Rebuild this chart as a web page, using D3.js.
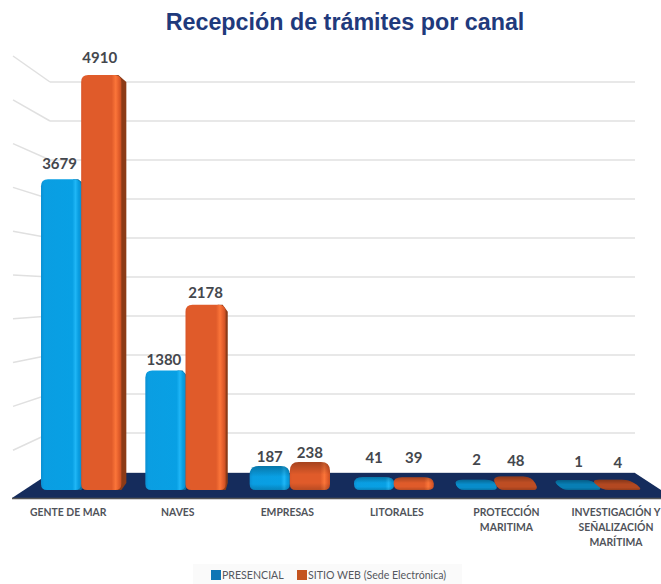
<!DOCTYPE html>
<html>
<head>
<meta charset="utf-8">
<script src="https://cdn.jsdelivr.net/npm/d3@7"></script>
<style>
  body { margin: 0; background: #fff; }
  svg { display: block; }
</style>
</head>
<body>
<div id="chart"></div>
<script>
const categories = ["GENTE DE MAR", "NAVES", "EMPRESAS", "LITORALES", "PROTECCIÓN MARITIMA", "INVESTIGACIÓN Y SEÑALIZACIÓN MARÍTIMA"];
const categoryLines = [["GENTE DE MAR"], ["NAVES"], ["EMPRESAS"], ["LITORALES"], ["PROTECCIÓN", "MARITIMA"], ["INVESTIGACIÓN Y", "SEÑALIZACIÓN", "MARÍTIMA"]];
const seriesNames = ["PRESENCIAL", "SITIO WEB (Sede Electrónica)"];
const presencial = [3679, 1380, 187, 41, 2, 1];
const sitioWeb = [4910, 2178, 238, 39, 48, 4];
const gridTicks = [500, 1000, 1500, 2000, 2500, 3000, 3500, 4000, 4500, 5000];

const width = 661;
const height = 584;
const floorBase = 490;

const svg = d3.select("#chart")
  .append("svg")
  .attr("width", width)
  .attr("height", height)
  .style("font-family", "Lato, sans-serif");

const defs = svg.append("defs");

function hGradient(id, stops) {
  const g = defs.append("linearGradient").attr("id", id);
  stops.forEach(s => g.append("stop").attr("offset", s[0]).attr("stop-color", s[1]));
}
hGradient("blueFace", [[0, "#0b8fd2"], [0.08, "#0a9ee2"], [0.78, "#08a0e4"], [0.86, "#1fb6f6"], [0.93, "#0a9fe2"], [1, "#0a8fd0"]]);
hGradient("orangeFace", [[0, "#d9562a"], [0.06, "#e05b2a"], [0.76, "#e05b2a"], [0.86, "#fb7539"], [0.94, "#e25d2b"], [1, "#c94f22"]]);

const shortShade = defs.append("linearGradient").attr("id", "shortShade").attr("x2", 0).attr("y2", 1);
[[0, 0.26], [0.45, 0], [0.75, 0], [1, 0.18]].forEach(s => {
  shortShade.append("stop").attr("offset", s[0]).attr("stop-color", "#000").attr("stop-opacity", s[1]);
});

const x0 = d3.scaleBand().domain(categories).range([29, 655]).paddingInner(0.23).paddingOuter(0.115);
const x1 = d3.scaleBand().domain(seriesNames).range([0, x0.bandwidth()]);

// bars are drawn in perspective, so the value scale bends a little
const y = d3.scalePow().exponent(1.03).domain([0, 4910]).range([480, 75]);
const backWall = d3.scaleLinear().domain([0, 5000]).range([472, 82]);
const sideWall = d3.scaleLinear().domain([0, 5000]).range([494, 56]);

svg.append("text")
  .attr("x", 345)
  .attr("y", 30)
  .attr("text-anchor", "middle")
  .attr("font-family", "'Liberation Sans', Arial, sans-serif")
  .attr("font-weight", "bold")
  .attr("font-size", 23.3)
  .attr("fill", "#1f3a7c")
  .text("Recepción de trámites por canal");

const grid = svg.append("g").attr("stroke", "#e0e0e0").attr("stroke-width", 1.5).attr("fill", "none");
grid.selectAll("line.back")
  .data(gridTicks)
  .join("line")
  .attr("class", "back")
  .attr("x1", 50)
  .attr("x2", 635)
  .attr("y1", d => backWall(d))
  .attr("y2", d => backWall(d));
grid.selectAll("line.side")
  .data(gridTicks)
  .join("line")
  .attr("class", "side")
  .attr("x1", 13)
  .attr("x2", 50)
  .attr("y1", d => sideWall(d))
  .attr("y2", d => backWall(d));

// floor of the 3d chart
svg.append("path")
  .attr("d", d3.line()([[50, 473], [635, 473], [661, 490], [661, 498], [12, 498]]) + "Z")
  .attr("fill", "#152c5c");
svg.append("line")
  .attr("x1", 50).attr("x2", 635).attr("y1", 472.5).attr("y2", 472.5)
  .attr("stroke", "#d5d8e0");
svg.append("line")
  .attr("x1", 12).attr("x2", 661).attr("y1", 498.5).attr("y2", 498.5)
  .attr("stroke", "#555").attr("stroke-width", 1.6);

// polygon with each corner cut and rounded by its own radius
function roundedPoly(points, radii) {
  const p = d3.path();
  const n = points.length;
  points.forEach((c, i) => {
    const prev = points[(i + n - 1) % n];
    const next = points[(i + 1) % n];
    const lenA = Math.hypot(prev[0] - c[0], prev[1] - c[1]);
    const lenB = Math.hypot(next[0] - c[0], next[1] - c[1]);
    const cutA = Math.min(radii[i], lenA / 2);
    const cutB = Math.min(radii[i], lenB / 2);
    const a = [c[0] + (prev[0] - c[0]) * cutA / lenA, c[1] + (prev[1] - c[1]) * cutA / lenA];
    const b = [c[0] + (next[0] - c[0]) * cutB / lenB, c[1] + (next[1] - c[1]) * cutB / lenB];
    if (i === 0) p.moveTo(a[0], a[1]); else p.lineTo(a[0], a[1]);
    p.quadraticCurveTo(c[0], c[1], b[0], b[1]);
  });
  p.closePath();
  return p.toString();
}

function barPath(d) {
  const r = d.short ? 9 : 7;
  return roundedPoly(
    [[d.left - d.lean, d.top], [d.right - d.lean, d.top], [d.right, floorBase], [d.left, floorBase]],
    [r, r, 6, 6]
  );
}

function sidePath(d) {
  return d3.line()([[d.right - 8, d.top], [d.right - 3, d.top], [d.right + d.depth, d.top + 7], [d.right + d.depth, floorBase - 7], [d.right, floorBase], [d.right - 8, floorBase]]) + "Z";
}

const bars = [];
categories.forEach((c, i) => {
  bars.push({ category: c, series: seriesNames[0], value: presencial[i], fill: "url(#blueFace)", flat: "#0a9ee2", side: "#0a6f9f" });
  bars.push({ category: c, series: seriesNames[1], value: sitioWeb[i], fill: "url(#orangeFace)", flat: "#e05b2a", side: "#8c3b17" });
});
bars.forEach(d => {
  d.left = x0(d.category) + x1(d.series);
  d.right = d.left + x1.bandwidth();
  d.top = y(d.value);
  const mid = (d.left + d.right) / 2;
  d.lean = Math.max(0, (mid - 395) * 0.055);
  d.depth = Math.max(0, (300 - d.right) * 0.028);
  d.short = floorBase - d.top < 40;
});

const barG = svg.append("g").selectAll("g")
  .data(bars)
  .join("g");

barG.filter(d => d.depth > 0 && !d.short)
  .append("path")
  .attr("d", sidePath)
  .attr("fill", d => d.side);
barG.append("path")
  .attr("d", barPath)
  .attr("fill", d => d.lean > 4 ? d.flat : d.fill);
barG.filter(d => d.short)
  .append("path")
  .attr("d", barPath)
  .attr("fill", "url(#shortShade)");
// far bars at the right sit darker
barG.filter(d => d.lean > 4)
  .append("path")
  .attr("d", barPath)
  .attr("fill", "#000")
  .attr("fill-opacity", d => Math.min(0.2, d.lean * 0.022));

const labelG = svg.append("g")
  .attr("font-size", 15)
  .attr("font-weight", "bold")
  .attr("fill", "#44474d")
  .attr("text-anchor", "middle");
labelG.selectAll("text")
  .data(bars)
  .join("text")
  .attr("x", d => (d.left + d.right) / 2 - d.lean * 0.4 - (d.depth > 3 ? 1.5 : 0))
  .attr("y", d => Math.min(d.top - 3 - 9 * (floorBase - d.top) / 415, 463 + d.lean * 0.4))
  .text(d => d.value);

const catG = svg.append("g")
  .attr("font-size", 10.4)
  .attr("font-weight", "bold")
  .attr("fill", "#50535a")
  .attr("text-anchor", "middle");
categories.forEach((c, i) => {
  const mid = x0(c) + x0.bandwidth() / 2;
  catG.append("text")
    .attr("y", 516)
    .selectAll("tspan")
    .data(categoryLines[i])
    .join("tspan")
    .attr("x", mid + (mid - 340) * 0.05)
    .attr("dy", (d, k) => k ? 15 : 0)
    .text(d => d);
});

// legend
svg.append("rect")
  .attr("x", 193).attr("y", 564).attr("width", 269).attr("height", 20)
  .attr("fill", "#fafafa");
const legendX = d3.scaleOrdinal().domain(seriesNames).range([211, 297]);
const legendColor = d3.scaleOrdinal().domain(seriesNames).range(["#0f76b5", "#c4541f"]);
const legend = svg.append("g").selectAll("g")
  .data(seriesNames)
  .join("g")
  .attr("transform", d => `translate(${legendX(d)},570)`);
legend.append("rect")
  .attr("width", 10).attr("height", 10)
  .attr("fill", d => legendColor(d));
legend.append("text")
  .attr("x", 11)
  .attr("y", 9)
  .attr("font-size", 10.6)
  .attr("fill", "#55585e")
  .text(d => d);
</script>
</body>
</html>
